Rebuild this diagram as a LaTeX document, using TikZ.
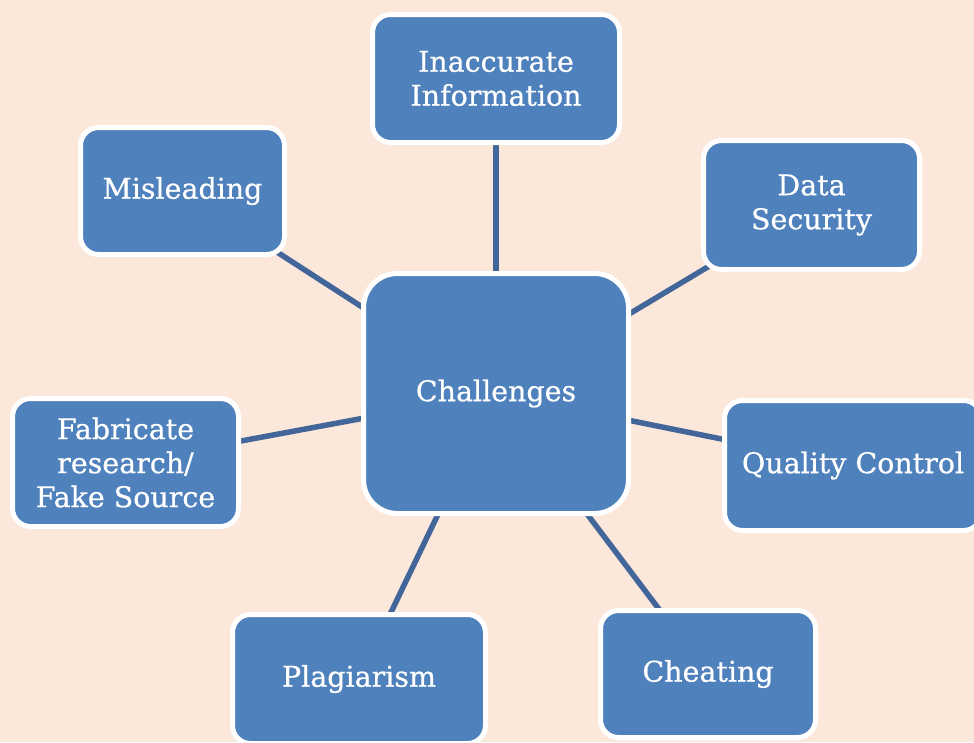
\documentclass[tikz,border=0pt]{standalone}
\usepackage{fontspec}
\setmainfont{DejaVu Serif}[FakeBold=0.6]
\pgfdeclarelayer{bglayer}
\pgfdeclarelayer{edgelayer}
\pgfsetlayers{bglayer,edgelayer,main}
\definecolor{peach}{HTML}{FCE8DA}
\definecolor{boxblue}{HTML}{4F81BD}
\definecolor{linkblue}{HTML}{43669A}
\tikzset{
  box/.style={draw=white, line width=5pt, fill=boxblue, rounded corners=18pt,
    text=white, align=center, inner sep=0pt, font=\fontsize{28.5}{34}\selectfont},
  link/.style={draw=linkblue, line width=5.5pt}
}
\begin{document}
\begin{tikzpicture}[x=1pt,y=-1pt]
\begin{pgfonlayer}{bglayer}
\fill[peach] (0,0) rectangle (974,742);
\end{pgfonlayer}
\useasboundingbox (0,0) rectangle (974,742);
\node[box, minimum width=265pt, minimum height=240pt, rounded corners=34pt] (ch) at (496,393.5) {Challenges};
\node[box, minimum width=247pt, minimum height=128pt] (inacc) at (496,78.5) {Inaccurate\\Information};
\node[box, minimum width=204pt, minimum height=127pt] (mis) at (182.5,191) {Misleading};
\node[box, minimum width=216pt, minimum height=129pt] (data) at (811.5,205) {Data\\Security};
\node[box, minimum width=226pt, minimum height=128pt] (fab) at (125.5,462.5) {Fabricate\\research/\\Fake Source};
\node[box, minimum width=257pt, minimum height=130pt] (qual) at (853,465.5) {Quality Control};
\node[box, minimum width=253pt, minimum height=129pt] (plag) at (359,679) {Plagiarism};
\node[box, minimum width=215pt, minimum height=127pt] (cheat) at (708,674) {Cheating};
\begin{pgfonlayer}{edgelayer}
\foreach \n in {inacc,mis,data,fab,qual,plag,cheat}
  \draw[link] (ch.center) -- (\n.center);
\end{pgfonlayer}
\end{tikzpicture}
\end{document}
